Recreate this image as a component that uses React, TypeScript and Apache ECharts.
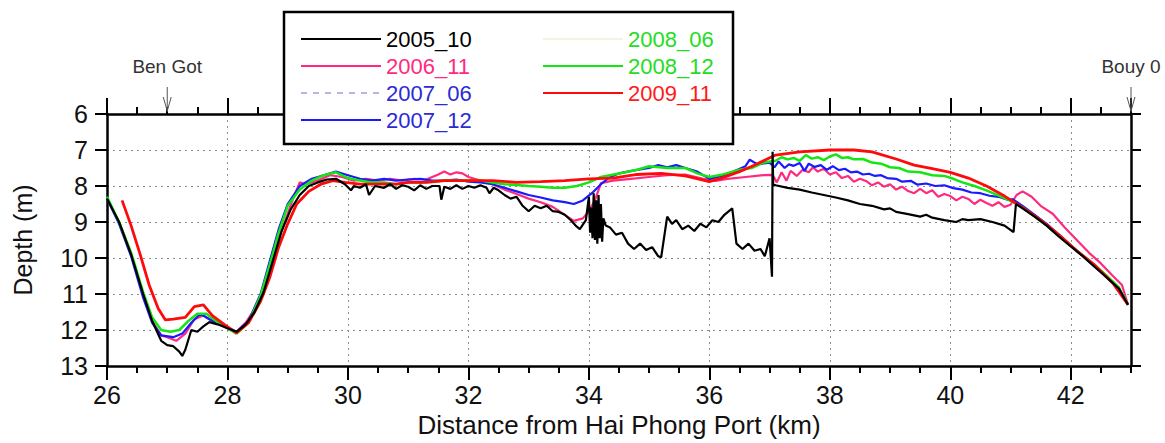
import React, { useEffect, useRef } from "react";
import * as echarts from "echarts";

const FONT = '"Liberation Sans", Arial, Helvetica, sans-serif';

// Distance (km) / depth (m) profiles
const profile2005_10: [number, number][] = [
  [26.0, 8.35], [26.2, 9.0], [26.4, 9.9], [26.6, 11.0], [26.75, 11.75], [26.9, 12.3], [27.0, 12.42], [27.1, 12.45],
  [27.2, 12.6], [27.25, 12.72], [27.3, 12.55], [27.4, 12.0], [27.5, 12.05], [27.6, 11.9], [27.7, 11.78], [27.85, 11.85],
  [28.0, 11.95], [28.15, 12.05], [28.3, 11.85], [28.45, 11.5], [28.6, 10.95], [28.75, 10.1], [28.9, 9.25], [29.05, 8.65],
  [29.2, 8.25], [29.35, 8.0], [29.5, 7.9], [29.65, 7.82], [29.8, 7.8], [29.95, 7.95], [30.05, 8.12], [30.1, 8.0],
  [30.2, 8.05], [30.3, 7.95], [30.35, 8.25], [30.45, 8.0], [30.6, 8.05], [30.7, 7.95], [30.8, 8.08], [30.9, 7.98],
  [31.0, 8.02], [31.1, 8.12], [31.2, 7.98], [31.3, 8.08], [31.4, 8.0], [31.52, 8.0], [31.55, 8.38], [31.6, 8.02],
  [31.7, 8.08], [31.8, 7.98], [31.9, 8.08], [32.0, 8.0], [32.1, 8.05], [32.2, 7.98], [32.3, 8.05], [32.35, 8.2],
  [32.42, 8.05], [32.5, 8.12], [32.6, 8.25], [32.7, 8.35], [32.8, 8.3], [32.9, 8.55], [33.0, 8.7], [33.1, 8.55],
  [33.2, 8.62], [33.3, 8.55], [33.4, 8.7], [33.5, 8.72], [33.6, 8.8], [33.7, 8.95], [33.78, 9.1], [33.85, 9.2],
  [33.95, 8.95], [34.0, 8.3], [34.02, 9.3], [34.04, 8.6], [34.06, 9.45], [34.08, 8.2], [34.1, 9.5], [34.12, 8.4],
  [34.14, 9.6], [34.16, 8.25], [34.18, 9.45], [34.2, 8.5], [34.22, 9.55], [34.24, 8.9], [34.28, 9.1], [34.35, 9.15],
  [34.45, 9.35], [34.55, 9.3], [34.65, 9.6], [34.75, 9.75], [34.85, 9.6], [34.95, 9.78], [35.05, 9.7], [35.15, 9.95],
  [35.2, 9.98], [35.3, 8.85], [35.38, 9.05], [35.45, 8.95], [35.55, 9.2], [35.65, 9.1], [35.75, 9.25], [35.85, 9.05],
  [35.95, 9.15], [36.05, 8.95], [36.15, 9.0], [36.25, 8.8], [36.38, 8.62], [36.45, 9.6], [36.55, 9.75], [36.65, 9.6],
  [36.75, 9.8], [36.85, 9.75], [36.92, 9.95], [37.0, 9.45], [37.04, 10.52], [37.05, 7.05], [37.06, 7.95], [37.1, 7.98],
  [37.3, 8.05], [37.5, 8.1], [37.7, 8.18], [37.9, 8.25], [38.1, 8.32], [38.3, 8.4], [38.5, 8.5], [38.7, 8.55],
  [38.9, 8.65], [39.0, 8.62], [39.1, 8.72], [39.3, 8.78], [39.5, 8.85], [39.6, 8.8], [39.7, 8.88], [39.9, 8.95],
  [40.1, 9.0], [40.2, 8.92], [40.3, 8.95], [40.5, 8.92], [40.7, 9.0], [40.9, 9.1], [41.05, 9.28], [41.09, 8.5],
  [41.2, 8.62], [41.4, 8.85], [41.6, 9.1], [41.8, 9.4], [42.0, 9.68], [42.2, 9.95], [42.4, 10.25], [42.6, 10.55],
  [42.8, 10.85], [42.95, 11.3],
];

const profile2006_11: [number, number][] = [
  [26.0, 8.35], [26.2, 9.0], [26.4, 9.9], [26.6, 11.0], [26.75, 11.75], [26.9, 12.15], [27.0, 12.2], [27.15, 12.3],
  [27.3, 12.1], [27.45, 11.7], [27.6, 11.6], [27.8, 11.8], [28.0, 11.95], [28.15, 12.05], [28.3, 11.8], [28.5, 11.3],
  [28.65, 10.6], [28.8, 9.7], [28.95, 9.0], [29.1, 8.3], [29.2, 7.9], [29.3, 7.95], [29.5, 7.85], [29.7, 7.7],
  [29.9, 7.75], [30.1, 7.85], [30.3, 7.8], [30.5, 7.85], [30.7, 7.8], [30.9, 7.85], [31.1, 7.8], [31.3, 7.82],
  [31.5, 7.68], [31.6, 7.6], [31.7, 7.68], [31.8, 7.62], [31.9, 7.65], [32.0, 7.75], [32.2, 7.85], [32.4, 7.95],
  [32.6, 8.1], [32.8, 8.22], [33.0, 8.35], [33.2, 8.45], [33.4, 8.58], [33.6, 8.8], [33.75, 8.97], [33.9, 8.9],
  [34.0, 8.7], [34.1, 8.4], [34.2, 7.92], [34.4, 7.85], [34.7, 7.8], [35.0, 7.75], [35.3, 7.7], [35.6, 7.68],
  [35.9, 7.8], [36.1, 7.86], [36.3, 7.8], [36.6, 7.75], [36.9, 7.7], [37.05, 7.69], [37.12, 7.9], [37.2, 7.62],
  [37.28, 7.85], [37.35, 7.58], [37.45, 7.72], [37.55, 7.55], [37.65, 7.62], [37.72, 7.48], [37.8, 7.6], [37.9, 7.52],
  [38.0, 7.68], [38.1, 7.62], [38.2, 7.78], [38.3, 7.72], [38.4, 7.88], [38.5, 7.8], [38.6, 7.86], [38.7, 7.98],
  [38.8, 7.9], [38.9, 8.02], [39.0, 7.95], [39.1, 8.1], [39.2, 8.02], [39.3, 8.14], [39.4, 8.2], [39.5, 8.08],
  [39.6, 8.2], [39.7, 8.12], [39.8, 8.3], [39.9, 8.22], [40.0, 8.28], [40.1, 8.4], [40.2, 8.3], [40.3, 8.36],
  [40.4, 8.5], [40.5, 8.38], [40.6, 8.47], [40.7, 8.55], [40.8, 8.45], [40.9, 8.58], [41.0, 8.52], [41.1, 8.25],
  [41.2, 8.15], [41.35, 8.3], [41.5, 8.55], [41.7, 8.77], [41.9, 9.15], [42.1, 9.5], [42.3, 9.85], [42.5, 10.15],
  [42.7, 10.5], [42.85, 10.75], [42.95, 11.3],
];

const profile2007_06: [number, number][] = [];

const profile2007_12: [number, number][] = [
  [26.0, 8.35], [26.2, 9.05], [26.4, 9.95], [26.6, 11.1], [26.75, 11.8], [26.9, 12.15], [27.1, 12.2], [27.25, 12.1],
  [27.4, 11.8], [27.55, 11.55], [27.7, 11.7], [27.9, 11.85], [28.15, 12.05], [28.35, 11.75], [28.55, 11.0], [28.7, 10.1],
  [28.85, 9.2], [29.0, 8.5], [29.2, 8.0], [29.4, 7.8], [29.6, 7.7], [29.8, 7.6], [30.0, 7.7], [30.2, 7.8],
  [30.4, 7.85], [30.6, 7.8], [30.8, 7.85], [31.0, 7.82], [31.2, 7.8], [31.4, 7.85], [31.6, 7.85], [31.8, 7.82],
  [32.0, 7.88], [32.2, 7.9], [32.4, 7.95], [32.6, 8.05], [32.8, 8.15], [33.0, 8.25], [33.2, 8.32], [33.4, 8.4],
  [33.6, 8.45], [33.75, 8.5], [33.9, 8.4], [34.05, 8.2], [34.2, 7.95], [34.35, 7.75], [34.5, 7.65], [34.8, 7.55],
  [35.0, 7.5], [35.15, 7.42], [35.3, 7.48], [35.45, 7.42], [35.6, 7.5], [35.8, 7.6], [36.0, 7.8], [36.2, 7.73],
  [36.4, 7.6], [36.6, 7.45], [36.67, 7.27], [36.8, 7.4], [37.0, 7.35], [37.08, 7.48], [37.15, 7.32], [37.25, 7.5],
  [37.32, 7.4], [37.4, 7.44], [37.5, 7.36], [37.58, 7.58], [37.65, 7.38], [37.75, 7.47], [37.85, 7.42], [37.95, 7.55],
  [38.05, 7.45], [38.15, 7.56], [38.25, 7.52], [38.35, 7.62], [38.45, 7.6], [38.55, 7.68], [38.65, 7.66], [38.75, 7.72],
  [38.85, 7.7], [38.95, 7.78], [39.1, 7.8], [39.2, 7.88], [39.35, 7.86], [39.45, 7.96], [39.6, 7.93], [39.75, 8.0],
  [39.9, 7.98], [40.05, 8.06], [40.2, 8.1], [40.35, 8.18], [40.5, 8.2], [40.65, 8.27], [40.8, 8.3], [40.95, 8.38],
  [41.04, 8.37], [41.2, 8.55], [41.4, 8.8], [41.6, 9.05], [41.8, 9.35], [42.0, 9.65], [42.2, 9.95], [42.4, 10.25],
  [42.6, 10.52], [42.8, 10.85], [42.95, 11.3],
];

const profile2008_06: [number, number][] = [];

const profile2008_12: [number, number][] = [
  [26.0, 8.3], [26.2, 9.0], [26.4, 9.85], [26.6, 10.95], [26.75, 11.65], [26.9, 12.0], [27.05, 12.05], [27.2, 12.0],
  [27.35, 11.75], [27.5, 11.55], [27.65, 11.55], [27.85, 11.8], [28.0, 11.95], [28.15, 12.1], [28.35, 11.8], [28.55, 11.05],
  [28.7, 10.2], [28.85, 9.3], [29.0, 8.55], [29.2, 8.1], [29.4, 7.85], [29.6, 7.7], [29.8, 7.62], [30.0, 7.78],
  [30.2, 7.85], [30.4, 7.9], [30.6, 7.9], [30.8, 7.95], [31.0, 7.9], [31.2, 7.9], [31.4, 7.88], [31.6, 7.85],
  [31.8, 7.85], [32.0, 7.85], [32.2, 7.85], [32.4, 7.9], [32.6, 7.95], [32.8, 7.97], [33.0, 8.0], [33.2, 8.02],
  [33.4, 8.05], [33.6, 8.05], [33.8, 8.0], [34.0, 7.9], [34.2, 7.75], [34.5, 7.65], [34.8, 7.55], [35.0, 7.45],
  [35.3, 7.5], [35.6, 7.5], [35.8, 7.65], [36.0, 7.75], [36.2, 7.69], [36.5, 7.55], [36.7, 7.5], [36.9, 7.35],
  [37.1, 7.3], [37.2, 7.2], [37.3, 7.26], [37.4, 7.22], [37.5, 7.3], [37.6, 7.14], [37.7, 7.24], [37.8, 7.2],
  [37.9, 7.28], [38.0, 7.18], [38.1, 7.12], [38.2, 7.22], [38.3, 7.2], [38.4, 7.26], [38.55, 7.25], [38.7, 7.35],
  [38.85, 7.38], [39.0, 7.48], [39.15, 7.5], [39.3, 7.6], [39.5, 7.62], [39.7, 7.7], [39.9, 7.72], [40.05, 7.8],
  [40.2, 7.9], [40.4, 8.0], [40.6, 8.12], [40.85, 8.3], [41.05, 8.45], [41.2, 8.6], [41.4, 8.85], [41.6, 9.1],
  [41.8, 9.38], [42.0, 9.65], [42.2, 9.93], [42.4, 10.2], [42.6, 10.5], [42.8, 10.82], [42.95, 11.3],
];

const profile2009_11: [number, number][] = [
  [26.25, 8.4], [26.4, 9.1], [26.55, 9.9], [26.7, 10.75], [26.85, 11.4], [26.97, 11.72], [27.1, 11.7], [27.3, 11.65],
  [27.45, 11.35], [27.6, 11.3], [27.75, 11.6], [27.95, 11.85], [28.15, 12.08], [28.35, 11.8], [28.55, 11.2], [28.7, 10.55],
  [28.85, 9.7], [29.0, 9.05], [29.15, 8.5], [29.35, 8.15], [29.55, 7.95], [29.75, 7.85], [29.95, 7.9], [30.2, 7.95],
  [30.5, 7.95], [30.8, 7.95], [31.0, 7.9], [31.3, 7.9], [31.6, 7.85], [32.0, 7.85], [32.4, 7.85], [32.8, 7.9],
  [33.2, 7.88], [33.6, 7.85], [34.0, 7.8], [34.4, 7.78], [34.8, 7.68], [35.2, 7.65], [35.6, 7.72], [36.0, 7.88],
  [36.2, 7.78], [36.5, 7.6], [36.7, 7.46], [36.9, 7.3], [37.1, 7.14], [37.5, 7.05], [38.0, 7.0], [38.4, 7.0],
  [38.7, 7.05], [39.1, 7.25], [39.4, 7.42], [39.7, 7.52], [40.0, 7.62], [40.3, 7.78], [40.6, 8.0], [40.9, 8.28],
  [41.2, 8.6], [41.5, 8.95], [41.8, 9.35], [42.1, 9.8], [42.4, 10.2], [42.7, 10.7], [42.95, 11.3],
];

const landmarkKm = [27, 43];
const landmarkLabels = ["Ben Got", "Bouy 0"];

const xMin = 26;
const xMax = 43;
const yMin = 6;
const yMax = 13;

export default function App() {
  const ref = useRef<HTMLDivElement>(null);

  useEffect(() => {
    if (!ref.current) return;
    const chart = echarts.init(ref.current, null, { renderer: "svg" });

    const gridLine = { show: true, lineStyle: { color: "#8c8c8c", type: [2, 4], width: 1 } };
    const axisLine = { show: true, onZero: false, lineStyle: { color: "#000", width: 2.5 } };

    const lineSeries = (name: string, data: [number, number][], color: string, width: number, dashed = false) => ({
      name,
      type: "line",
      data,
      xAxisIndex: 0,
      yAxisIndex: 0,
      showSymbol: false,
      symbol: "none",
      color,
      lineStyle: { color, width, type: dashed ? [6, 6] : "solid" },
      clip: true,
      silent: true,
    });

    const legendText = (name: string, color: string) => ({ name, textStyle: { color } });
    const legendBase = {
      z: 10, top: 28, orient: "vertical", itemWidth: 80, itemHeight: 14, itemGap: 5,
      padding: 0, selectedMode: false,
      itemStyle: { opacity: 0, color: "rgba(0,0,0,0)", borderWidth: 0 },
      textStyle: { fontSize: 22, fontFamily: FONT },
    };

    chart.setOption({
      animation: false,
      backgroundColor: "#fff",
      textStyle: { fontFamily: FONT },
      grid: { left: 107, right: 34, top: 114, bottom: 75, containLabel: false },
      xAxis: [
        {
          type: "value", position: "bottom", min: xMin, max: xMax, interval: 2,
          axisLine,
          axisTick: { show: true, length: 14, lineStyle: { color: "#000", width: 2 } },
          axisLabel: { show: true, fontSize: 25, color: "#111", margin: 16, fontFamily: FONT, showMaxLabel: false },
          splitLine: gridLine,
          name: "Distance from Hai Phong Port (km)",
          nameLocation: "middle",
          nameGap: 46,
          nameTextStyle: { fontSize: 26, color: "#111", fontFamily: FONT },
        },
        {
          type: "value", position: "bottom", min: xMin, max: xMax, interval: 0.5,
          axisLine: { show: false, onZero: false },
          axisTick: { show: true, length: 7, lineStyle: { color: "#000", width: 2 } },
          axisLabel: { show: false }, splitLine: { show: false },
        },
        {
          type: "value", position: "top", min: xMin, max: xMax, interval: 2,
          axisLine,
          axisTick: { show: true, length: 16, lineStyle: { color: "#000", width: 2 } },
          axisLabel: { show: false }, splitLine: { show: false },
        },
        {
          type: "value", position: "top", min: xMin, max: xMax, interval: 0.5,
          axisLine: { show: false, onZero: false },
          axisTick: { show: true, length: 7, lineStyle: { color: "#000", width: 2 } },
          axisLabel: { show: false }, splitLine: { show: false },
        },
      ],
      yAxis: [
        {
          type: "value", position: "left", inverse: true, min: yMin, max: yMax, interval: 1,
          axisLine,
          axisTick: { show: true, length: 12, lineStyle: { color: "#000", width: 2 } },
          axisLabel: { show: true, fontSize: 25, color: "#111", margin: 19, fontFamily: FONT },
          splitLine: gridLine,
          name: "Depth (m)",
          nameLocation: "middle",
          nameGap: 72,
          nameRotate: 90,
          nameTextStyle: { fontSize: 25, color: "#111", fontFamily: FONT },
        },
        {
          type: "value", position: "right", inverse: true, min: yMin, max: yMax, interval: 1,
          axisLine,
          axisTick: { show: true, length: 10, lineStyle: { color: "#000", width: 2 } },
          axisLabel: { show: false }, splitLine: { show: false },
        },
      ],
      legend: [
        {
          ...legendBase,
          left: 300,
          data: [
            legendText("2005_10", "#000000"),
            legendText("2006_11", "#ff2a7f"),
            legendText("2007_06", "#2a2ad6"),
            legendText("2007_12", "#2a2ad6"),
          ],
        },
        {
          ...legendBase,
          left: 542,
          data: [
            legendText("2008_06", "#22dd22"),
            legendText("2008_12", "#22dd22"),
            legendText("2009_11", "#ff1a1a"),
          ],
        },
      ],
      graphic: [
        {
          type: "rect", z: 5,
          shape: { x: 284, y: 12, width: 449, height: 132 },
          style: { fill: "#fff", stroke: "#000", lineWidth: 2.5 },
          silent: true,
        },
      ],
      series: [
        lineSeries("2007_06", profile2007_06, "#b8b8e6", 2, true),
        lineSeries("2008_06", profile2008_06, "#eef6dc", 2),
        lineSeries("2006_11", profile2006_11, "#ff2a7f", 2.2),
        lineSeries("2007_12", profile2007_12, "#1a1aff", 2.2),
        lineSeries("2008_12", profile2008_12, "#14e614", 2.5),
        lineSeries("2009_11", profile2009_11, "#ff0a0a", 2.8),
        lineSeries("2005_10", profile2005_10, "#000000", 2.2),
        {
          type: "custom",
          name: "landmarks",
          xAxisIndex: 0,
          yAxisIndex: 0,
          clip: false,
          silent: true,
          data: landmarkKm.map((k) => [k, yMin]),
          renderItem: (params: any, api: any) => {
            const p = api.coord([api.value(0), api.value(1)]);
            const label = landmarkLabels[params.dataIndex];
            return {
              type: "group",
              children: [
                {
                  type: "text",
                  x: p[0],
                  y: p[1] - 48,
                  style: {
                    text: label,
                    fill: "#333",
                    font: `19px ${FONT}`,
                    align: "center",
                    verticalAlign: "middle",
                  },
                },
                {
                  type: "line",
                  shape: { x1: p[0], y1: p[1] - 27, x2: p[0], y2: p[1] - 2 },
                  style: { stroke: "#555", lineWidth: 1 },
                },
                {
                  type: "polyline",
                  shape: { points: [[p[0] - 4, p[1] - 17], [p[0], p[1] - 3], [p[0] + 4, p[1] - 17]] },
                  style: { stroke: "#555", fill: null, lineWidth: 1 },
                },
              ],
            };
          },
        },
      ],
    });

    return () => chart.dispose();
  }, []);

  return (
    <div
      ref={ref}
      style={{ position: "fixed", left: 0, top: 0, width: 1165, height: 443, background: "#fff" }}
    />
  );
}
